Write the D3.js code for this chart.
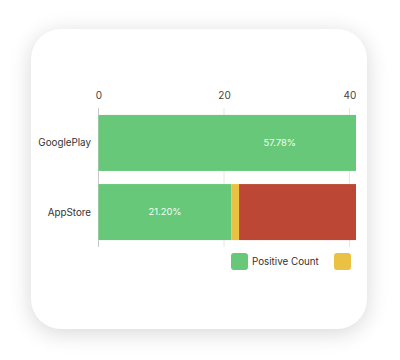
<!DOCTYPE html>
<html><head><meta charset="utf-8">
<script src="https://cdn.jsdelivr.net/npm/d3@7"></script>
<style>
html,body{margin:0;padding:0;background:#fff;width:400px;height:360px;overflow:hidden;font-family:Inter,"Noto Sans",sans-serif;}
#card{position:absolute;left:31px;top:29px;width:336px;height:300px;border-radius:30px;background:#fff;box-shadow:0 4px 22px rgba(0,0,0,0.16);}
#clip{position:absolute;left:31px;top:29px;width:325px;height:300px;overflow:hidden;}
</style></head><body>
<div id="card"></div>
<div id="clip"><svg id="chart" width="325" height="300"></svg></div>
<script>
const categories = ["GooglePlay", "AppStore"];
const seriesNames = ["Positive Count", "Neutral Count", "Negative Count"];
const positive = [57.78, 21.20];
const neutral = [8.89, 1.20];
const negative = [33.33, 77.60];
const positiveLabels = ["57.78%", "21.20%"];
const xTicks = [0, 20, 40, 60, 80, 100];
const colors = ["#66C878", "#EBC143", "#BD4735"];

const CLIP_X = 356; // right edge of visible chart area (page px)
const FS = 9.4;

const svg = d3.select("#chart");
const g = svg.append("g").attr("transform", "translate(-31,-29)");

const x = d3.scaleLinear().domain([0, 100]).range([98.5, 726]);
const y = d3.scaleBand().domain(categories).range([108, 247]).paddingInner(0.19).paddingOuter(0.1);

const rows = categories.map((c, i) => ({cat: c, "Positive Count": positive[i], "Neutral Count": neutral[i], "Negative Count": negative[i]}));
const stacked = d3.stack().keys(seriesNames)(rows);
const visibleTicks = xTicks.filter(t => x(t) < CLIP_X);

// grid
g.append("g").selectAll("line").data(visibleTicks).join("line")
  .attr("x1", d => x(d)).attr("x2", d => x(d))
  .attr("y1", 108).attr("y2", 247)
  .attr("stroke", d => d === 0 ? "#c8c8c8" : "#e6e6e6").attr("stroke-width", 1);

// top axis labels
const ax = g.append("g").attr("transform", "translate(0,99)")
  .call(d3.axisTop(x).tickValues(visibleTicks).tickSize(0).tickPadding(0));
ax.select(".domain").remove();
ax.selectAll("text").attr("font-family", "Inter, sans-serif").attr("font-size", FS + 0.6).attr("fill", "#444").attr("dy", "0");

// bars
g.append("g").selectAll("g").data(stacked).join("g")
  .attr("fill", (d, i) => colors[i])
  .selectAll("rect").data(d => d).join("rect")
  .attr("x", d => x(d[0])).attr("width", d => x(d[1]) - x(d[0]))
  .attr("y", d => y(d.data.cat)).attr("height", y.bandwidth());

// value labels
g.append("g").selectAll("text").data(stacked[0]).join("text")
  .attr("x", d => (x(d[0]) + x(d[1])) / 2)
  .attr("y", d => y(d.data.cat) + y.bandwidth() / 2)
  .attr("dy", "0.35em").attr("text-anchor", "middle")
  .attr("font-family", "Inter, sans-serif").attr("font-size", FS).attr("fill", "#f4fff4")
  .text((d, i) => positiveLabels[i]);

// category labels
g.append("g").selectAll("text").data(categories).join("text")
  .attr("x", 91).attr("y", d => y(d) + y.bandwidth() / 2)
  .attr("dy", "0.35em").attr("text-anchor", "end")
  .attr("font-family", "Inter, sans-serif").attr("font-size", FS + 0.4).attr("fill", "#333")
  .text(d => d);

// legend (items past the card's clip edge are not drawn)
const legX = [231, 334, 440];
const leg = g.append("g").selectAll("g").data(seriesNames).join("g")
  .attr("transform", (d, i) => `translate(${legX[i]},253)`);
leg.filter((d, i) => legX[i] < CLIP_X).append("rect").attr("width", 17).attr("height", 17).attr("rx", 3)
  .attr("fill", d => colors[seriesNames.indexOf(d)]);
leg.filter((d, i) => legX[i] + 21 + 10 < CLIP_X).append("text").attr("x", 21).attr("y", 8.5).attr("dy", "0.35em")
  .attr("font-family", "Inter, sans-serif").attr("font-size", FS + 0.4).attr("fill", "#333")
  .text(d => d);
</script>
</body></html>
